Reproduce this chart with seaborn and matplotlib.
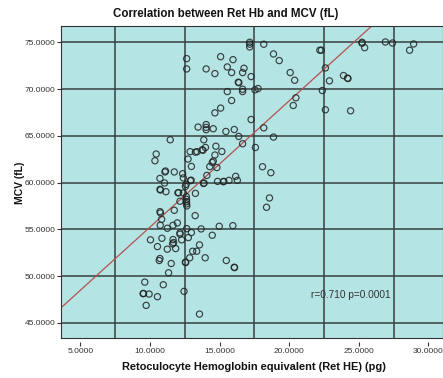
import matplotlib
matplotlib.use("Agg")
import matplotlib.pyplot as plt
import seaborn as sns
import pandas as pd

# Reticulocyte haemoglobin equivalent (pg) and MCV (fL) per patient
ret_he = [
    17.16, 17.16, 17.16, 12.63, 12.63, 15.07, 15.96, 14.03, 14.66, 15.55,
    15.86, 16.75, 16.65, 17.26, 16.34, 16.38, 15.55, 16.65, 16.65, 17.54,
    17.76, 15.86, 15.07, 14.66, 17.26, 13.45, 14.03, 14.03, 14.03, 14.54,
    15.45, 16.05, 16.37, 16.65, 17.57, 11.45, 10.44, 10.35, 12.73, 12.88,
    13.26, 13.38, 13.74, 13.80, 13.98, 13.86, 14.66, 15.16, 14.47, 14.29,
    14.54, 12.97, 14.80,
    18.17, 18.87, 19.28, 20.07, 20.39, 22.20, 22.31, 22.60, 23.90, 24.19,
    24.22, 22.89, 22.38, 20.48, 20.29, 22.60, 24.41, 18.17, 18.87, 18.08,
    25.23, 25.23, 25.42, 26.91, 27.42, 28.94, 28.65,
    18.68, 18.58, 18.37,
    11.11, 11.07, 11.74, 12.34, 12.39, 10.71, 11.04, 12.90, 12.95, 13.84,
    13.88, 14.08, 14.85, 15.26, 15.30, 15.67, 16.15, 16.27, 12.54, 12.59,
    12.05, 12.00, 12.39, 10.71, 10.75, 11.14, 13.26, 12.60, 12.62, 12.62,
    12.62, 12.64, 12.15, 11.74, 10.71, 10.75, 10.83, 10.73, 11.24, 11.65,
    11.96, 12.15, 12.15, 12.63, 12.97, 13.24, 13.67, 14.97, 15.95, 14.47,
    12.75, 12.27, 11.65, 10.85, 10.03, 11.69, 11.62, 10.53, 11.24, 11.84,
    13.55, 13.06, 13.35, 13.96, 12.85, 12.54, 12.56, 10.71, 10.66, 11.52,
    15.48, 16.05, 16.07, 11.33, 9.62, 10.95, 9.50, 9.53, 9.93, 10.53,
    9.72, 12.44, 13.55, 14.73,
]
mcv = [
    75.00, 74.80, 74.50, 73.25, 72.15, 73.46, 73.14, 72.15, 71.65, 72.36,
    71.76, 72.22, 71.76, 71.33, 70.73, 70.68, 69.73, 69.98, 69.73, 69.91,
    70.05, 68.77, 67.96, 67.45, 66.74, 65.93, 66.20, 65.90, 65.65, 65.75,
    65.46, 65.67, 64.93, 64.15, 63.75, 64.57, 63.05, 62.33, 62.51, 63.30,
    63.25, 63.30, 63.50, 63.45, 63.75, 64.57, 62.94, 63.32, 62.15, 61.70,
    62.30, 61.72, 61.60,
    74.79, 73.75, 73.04, 71.76, 70.94, 74.15, 74.15, 72.26, 71.44, 71.17,
    71.12, 70.87, 69.84, 69.06, 68.24, 67.78, 67.67, 65.85, 64.86, 61.69,
    75.00, 74.90, 74.42, 75.03, 74.92, 74.82, 74.15,
    61.05, 58.35, 57.35,
    61.23, 61.13, 61.13, 60.94, 60.49, 60.44, 59.95, 60.20, 60.25, 59.90,
    59.95, 60.76, 60.12, 60.09, 60.12, 60.23, 60.66, 60.23, 59.59, 59.80,
    58.92, 58.90, 58.88, 59.27, 59.20, 59.02, 58.84, 58.50, 58.20, 57.95,
    57.72, 57.50, 58.00, 57.03, 56.89, 56.75, 56.07, 55.43, 55.11, 55.43,
    55.68, 54.62, 54.47, 55.07, 54.65, 56.46, 55.04, 55.32, 55.39, 54.36,
    54.11, 53.87, 53.90, 54.04, 53.87, 53.58, 53.44, 53.15, 52.87, 52.94,
    53.33, 52.65, 52.65, 51.95, 51.95, 51.48, 51.45, 51.87, 51.66, 51.34,
    51.66, 50.94, 50.90, 50.35, 49.35, 49.07, 48.11, 48.14, 48.07, 47.79,
    46.86, 48.36, 45.93, 63.88,
]

x_ticks = [5, 10, 15, 20, 25, 30]
x_grid = [7.5, 12.5, 17.5, 22.5, 27.5]
y_ticks = [45, 50, 55, 60, 65, 70, 75]
x_limits = (3.6, 31.05)
y_limits = (43.34, 76.74)

# least-squares fit line and its statistics
fit_intercept = 41.74
fit_slope = 1.35
stat_text = "r=0.710 p=0.0001"
stat_pos = (21.6, 48.0)

sns.set_theme(style="white")
plt.rcParams["font.family"] = ["Liberation Sans", "DejaVu Sans"]

fig = plt.figure(figsize=(4.43, 3.78), dpi=100)
ax = fig.add_axes([61 / 443, 1 - 338.3 / 378, 382 / 443, 312.3 / 378])
ax.set_facecolor("#b4e4e4")

df = pd.DataFrame({"Ret HE": ret_he, "MCV": mcv})
sns.scatterplot(data=df, x="Ret HE", y="MCV", ax=ax, marker="o", s=20,
                facecolor="none", edgecolor="#222222", linewidth=0.85,
                alpha=0.85, zorder=3)

ax.axline((0, fit_intercept), slope=fit_slope, color="#b4524e", lw=0.9, zorder=2)

ax.set_xlim(*x_limits)
ax.set_ylim(*y_limits)

ax.set_xticks(x_grid)
ax.set_yticks(y_ticks)
ax.set_yticklabels([f"{v:.4f}" for v in y_ticks])
ax.set_axisbelow(True)
ax.grid(True, color="#364040", lw=1.1)
ax.tick_params(axis="x", length=0, labelbottom=False)
ax.tick_params(axis="y", left=True, direction="out", length=3, width=0.8,
               color="#333333", labelsize=6, labelcolor="#333333", pad=1)
for side, sp in ax.spines.items():
    sp.set_color("#333333")
    sp.set_linewidth(0.8)

sec = ax.secondary_xaxis(-0.012)
sec.set_xticks(x_ticks)
sec.set_xticklabels([f"{v:.4f}" for v in x_ticks])
sec.spines["bottom"].set_visible(False)
sec.tick_params(axis="x", direction="out", length=3, width=0.8, color="#333333",
                labelsize=6, labelcolor="#333333", pad=1.5)

ax.set_xlabel("")
ax.set_ylabel("")
ax.text(*stat_pos, stat_text, fontsize=7.3, color="#333333", va="center", ha="left")

fig.text(0.509, 0.963, "Correlation between Ret Hb and MCV (fL)",
         fontsize=8.3, fontweight="bold", ha="center", va="center", color="#111111")
fig.text(0.573, 0.030, "Retoculocyte Hemoglobin equivalent (Ret HE) (pg)",
         fontsize=7.9, fontweight="bold", ha="center", va="center", color="#111111")
fig.text(0.045, 0.516, "MCV (fL)", fontsize=7.5, fontweight="bold", rotation=90,
         ha="center", va="center", color="#111111")

fig.savefig("out.png", dpi=100)
